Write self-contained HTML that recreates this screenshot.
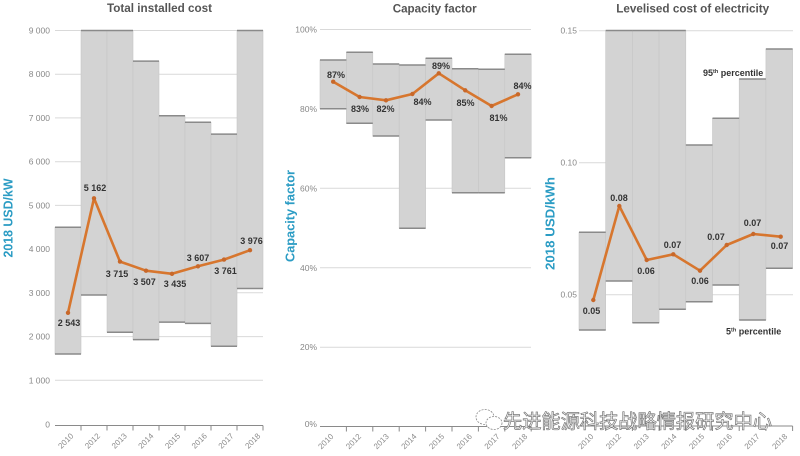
<!DOCTYPE html>
<html>
<head>
<meta charset="utf-8">
<style>
  html,body{margin:0;padding:0;background:#fff;}
  svg{display:block;}
  text{font-family:"Liberation Sans","Noto Sans CJK SC",sans-serif;}
  .title{font-size:12px;font-weight:bold;fill:#555;}
  .ytitle{font-size:13px;font-weight:bold;fill:#2b9cc4;}
  .tick{font-size:8.5px;fill:#888;}
  .xt{font-size:8px;fill:#8a8a8a;}
  .dl{font-size:9px;font-weight:bold;fill:#333;}
  .grid{stroke:#d9d9d9;stroke-width:1;}
  .box{fill:#d3d3d3;stroke:#c6c6c6;stroke-width:0.6;}
  .edge{stroke:#8a8a8a;stroke-width:1.5;}
  .axis{stroke:#8a8a8a;stroke-width:1;fill:none;}
  .ln{fill:none;stroke:#d7762e;stroke-width:2.6;stroke-linejoin:round;}
  .mk{fill:#c8682a;}
  .wm{font-family:"Liberation Sans","Noto Sans CJK SC",sans-serif;font-size:19.2px;fill:#fff;stroke:#777;stroke-width:0.7;}
</style>
</head>
<body>
<svg width="800" height="456" viewBox="0 0 800 456" xmlns="http://www.w3.org/2000/svg">
  <rect width="800" height="456" fill="#fff"/>

  <!-- ================= LEFT PANEL ================= -->
  <text class="title" x="159.5" y="12" text-anchor="middle" textLength="105" lengthAdjust="spacingAndGlyphs">Total installed cost</text>
  <text class="ytitle" transform="translate(12.5,218) rotate(-90)" text-anchor="middle" textLength="79" lengthAdjust="spacingAndGlyphs">2018 USD/kW</text>

  <g>
    <line class="grid" x1="55" y1="30.5" x2="263" y2="30.5"/>
    <line class="grid" x1="55" y1="74.2" x2="263" y2="74.2"/>
    <line class="grid" x1="55" y1="117.9" x2="263" y2="117.9"/>
    <line class="grid" x1="55" y1="161.7" x2="263" y2="161.7"/>
    <line class="grid" x1="55" y1="205.4" x2="263" y2="205.4"/>
    <line class="grid" x1="55" y1="249.1" x2="263" y2="249.1"/>
    <line class="grid" x1="55" y1="292.8" x2="263" y2="292.8"/>
    <line class="grid" x1="55" y1="336.6" x2="263" y2="336.6"/>
    <line class="grid" x1="55" y1="380.3" x2="263" y2="380.3"/>
  </g>
  <g text-anchor="end">
    <text class="tick" x="50" y="33.5">9 000</text>
    <text class="tick" x="50" y="77.2">8 000</text>
    <text class="tick" x="50" y="120.9">7 000</text>
    <text class="tick" x="50" y="164.7">6 000</text>
    <text class="tick" x="50" y="208.4">5 000</text>
    <text class="tick" x="50" y="252.1">4 000</text>
    <text class="tick" x="50" y="295.8">3 000</text>
    <text class="tick" x="50" y="339.6">2 000</text>
    <text class="tick" x="50" y="383.3">1 000</text>
    <text class="tick" x="50" y="427.5">0</text>
  </g>

  <!-- boxes -->
  <rect class="box" x="55" y="227.3" width="26" height="126.7"/>
  <rect class="box" x="81" y="30.5" width="26" height="264.5"/>
  <rect class="box" x="107" y="30.5" width="26" height="301.7"/>
  <rect class="box" x="133" y="61.1" width="26" height="278.5"/>
  <rect class="box" x="159" y="115.8" width="26" height="206.3"/>
  <rect class="box" x="185" y="122.3" width="26" height="201.1"/>
  <rect class="box" x="211" y="134.1" width="26" height="212.1"/>
  <rect class="box" x="237" y="30.5" width="26" height="258"/>
  <g class="edge">
    <line x1="55" y1="227.3" x2="81" y2="227.3"/><line x1="55" y1="354" x2="81" y2="354"/>
    <line x1="81" y1="30.5" x2="107" y2="30.5"/><line x1="81" y1="295" x2="107" y2="295"/>
    <line x1="107" y1="30.5" x2="133" y2="30.5"/><line x1="107" y1="332.2" x2="133" y2="332.2"/>
    <line x1="133" y1="61.1" x2="159" y2="61.1"/><line x1="133" y1="339.6" x2="159" y2="339.6"/>
    <line x1="159" y1="115.8" x2="185" y2="115.8"/><line x1="159" y1="322.1" x2="185" y2="322.1"/>
    <line x1="185" y1="122.3" x2="211" y2="122.3"/><line x1="185" y1="323.4" x2="211" y2="323.4"/>
    <line x1="211" y1="134.1" x2="237" y2="134.1"/><line x1="211" y1="346.2" x2="237" y2="346.2"/>
    <line x1="237" y1="30.5" x2="263" y2="30.5"/><line x1="237" y1="288.5" x2="263" y2="288.5"/>
  </g>

  <!-- axis -->
  <path class="axis" d="M55,425.5 H263 M81,425.5 V430.5 M107,425.5 V430.5 M133,425.5 V430.5 M159,425.5 V430.5 M185,425.5 V430.5 M211,425.5 V430.5 M237,425.5 V430.5 M263,425.5 V430.5"/>
  <g text-anchor="end">
    <text class="xt" transform="translate(74,436.5) rotate(-45)">2010</text>
    <text class="xt" transform="translate(100.7,436.5) rotate(-45)">2012</text>
    <text class="xt" transform="translate(127.4,436.5) rotate(-45)">2013</text>
    <text class="xt" transform="translate(154.1,436.5) rotate(-45)">2014</text>
    <text class="xt" transform="translate(180.8,436.5) rotate(-45)">2015</text>
    <text class="xt" transform="translate(207.5,436.5) rotate(-45)">2016</text>
    <text class="xt" transform="translate(234.2,436.5) rotate(-45)">2017</text>
    <text class="xt" transform="translate(260.9,436.5) rotate(-45)">2018</text>
  </g>

  <!-- line -->
  <path class="ln" d="M68,312.8 L94,198.3 L120,261.6 L146,270.7 L172,273.8 L198,266.3 L224,259.6 L250,250.2"/>
  <g class="mk">
    <circle cx="68" cy="312.8" r="2.2"/><circle cx="94" cy="198.3" r="2.2"/><circle cx="120" cy="261.6" r="2.2"/><circle cx="146" cy="270.7" r="2.2"/>
    <circle cx="172" cy="273.8" r="2.2"/><circle cx="198" cy="266.3" r="2.2"/><circle cx="224" cy="259.6" r="2.2"/><circle cx="250" cy="250.2" r="2.2"/>
  </g>
  <g text-anchor="middle">
    <text class="dl" x="69" y="326">2 543</text>
    <text class="dl" x="95" y="191">5 162</text>
    <text class="dl" x="117" y="277">3 715</text>
    <text class="dl" x="144.5" y="285">3 507</text>
    <text class="dl" x="175" y="287">3 435</text>
    <text class="dl" x="198" y="261">3 607</text>
    <text class="dl" x="225.5" y="274">3 761</text>
    <text class="dl" x="251.5" y="244">3 976</text>
  </g>

  <!-- ================= MIDDLE PANEL ================= -->
  <text class="title" x="434.7" y="12.5" text-anchor="middle" textLength="84" lengthAdjust="spacingAndGlyphs">Capacity factor</text>
  <text class="ytitle" transform="translate(294.5,216) rotate(-90)" text-anchor="middle" textLength="92" lengthAdjust="spacingAndGlyphs">Capacity factor</text>

  <g>
    <line class="grid" x1="320" y1="29.5" x2="531" y2="29.5"/>
    <line class="grid" x1="320" y1="108.8" x2="531" y2="108.8"/>
    <line class="grid" x1="320" y1="188.3" x2="531" y2="188.3"/>
    <line class="grid" x1="320" y1="267.8" x2="531" y2="267.8"/>
    <line class="grid" x1="320" y1="347.2" x2="531" y2="347.2"/>
  </g>
  <g text-anchor="end">
    <text class="tick" x="317" y="32.5">100%</text>
    <text class="tick" x="317" y="111.8">80%</text>
    <text class="tick" x="317" y="191.3">60%</text>
    <text class="tick" x="317" y="270.8">40%</text>
    <text class="tick" x="317" y="350.2">20%</text>
    <text class="tick" x="317" y="427">0%</text>
  </g>

  <rect class="box" x="320" y="60" width="26.4" height="48.7"/>
  <rect class="box" x="346.4" y="52.3" width="26.4" height="71"/>
  <rect class="box" x="372.8" y="64" width="26.4" height="72"/>
  <rect class="box" x="399.2" y="65" width="26.4" height="163.3"/>
  <rect class="box" x="425.6" y="58.3" width="26.4" height="61.7"/>
  <rect class="box" x="452" y="68.7" width="26.4" height="124"/>
  <rect class="box" x="478.4" y="69.3" width="26.4" height="123.4"/>
  <rect class="box" x="504.8" y="54.3" width="26.4" height="103.4"/>
  <g class="edge">
    <line x1="320" y1="60" x2="346.4" y2="60"/><line x1="320" y1="108.7" x2="346.4" y2="108.7"/>
    <line x1="346.4" y1="52.3" x2="372.8" y2="52.3"/><line x1="346.4" y1="123.3" x2="372.8" y2="123.3"/>
    <line x1="372.8" y1="64" x2="399.2" y2="64"/><line x1="372.8" y1="136" x2="399.2" y2="136"/>
    <line x1="399.2" y1="65" x2="425.6" y2="65"/><line x1="399.2" y1="228.3" x2="425.6" y2="228.3"/>
    <line x1="425.6" y1="58.3" x2="452" y2="58.3"/><line x1="425.6" y1="120" x2="452" y2="120"/>
    <line x1="452" y1="68.7" x2="478.4" y2="68.7"/><line x1="452" y1="192.7" x2="478.4" y2="192.7"/>
    <line x1="478.4" y1="69.3" x2="504.8" y2="69.3"/><line x1="478.4" y1="192.7" x2="504.8" y2="192.7"/>
    <line x1="504.8" y1="54.3" x2="531.2" y2="54.3"/><line x1="504.8" y1="157.7" x2="531.2" y2="157.7"/>
  </g>

  <path class="axis" d="M320,426.5 H531.2 M346.4,426.5 V431.5 M372.8,426.5 V431.5 M399.2,426.5 V431.5 M425.6,426.5 V431.5 M452,426.5 V431.5 M478.4,426.5 V431.5 M504.8,426.5 V431.5 M531.2,426.5 V431.5"/>
  <g text-anchor="end">
    <text class="xt" transform="translate(334,437) rotate(-45)">2010</text>
    <text class="xt" transform="translate(361.7,437) rotate(-45)">2012</text>
    <text class="xt" transform="translate(389.4,437) rotate(-45)">2013</text>
    <text class="xt" transform="translate(417.1,437) rotate(-45)">2014</text>
    <text class="xt" transform="translate(444.8,437) rotate(-45)">2015</text>
    <text class="xt" transform="translate(472.5,437) rotate(-45)">2016</text>
    <text class="xt" transform="translate(500.2,437) rotate(-45)">2017</text>
    <text class="xt" transform="translate(527.9,437) rotate(-45)">2018</text>
  </g>

  <path class="ln" d="M333.2,81.7 L359.6,97 L386,100.3 L412.4,94 L438.8,73.3 L465.2,90.3 L491.6,106 L518,94.3"/>
  <g class="mk">
    <circle cx="333.2" cy="81.7" r="2.2"/><circle cx="359.6" cy="97" r="2.2"/><circle cx="386" cy="100.3" r="2.2"/><circle cx="412.4" cy="94" r="2.2"/>
    <circle cx="438.8" cy="73.3" r="2.2"/><circle cx="465.2" cy="90.3" r="2.2"/><circle cx="491.6" cy="106" r="2.2"/><circle cx="518" cy="94.3" r="2.2"/>
  </g>
  <g text-anchor="middle">
    <text class="dl" x="336" y="78.2">87%</text>
    <text class="dl" x="360" y="112.2">83%</text>
    <text class="dl" x="385.5" y="112.2">82%</text>
    <text class="dl" x="422.5" y="105.2">84%</text>
    <text class="dl" x="441" y="69.2">89%</text>
    <text class="dl" x="465.5" y="106.2">85%</text>
    <text class="dl" x="498.5" y="121.2">81%</text>
    <text class="dl" x="522.5" y="89.2">84%</text>
  </g>

  <!-- ================= RIGHT PANEL ================= -->
  <text class="title" x="692.7" y="12.5" text-anchor="middle" textLength="153" lengthAdjust="spacingAndGlyphs">Levelised cost of electricity</text>
  <text class="ytitle" transform="translate(554.5,223.5) rotate(-90)" text-anchor="middle" textLength="93" lengthAdjust="spacingAndGlyphs">2018 USD/kWh</text>

  <g>
    <line class="grid" x1="579" y1="30.7" x2="793" y2="30.7"/>
    <line class="grid" x1="579" y1="162.7" x2="793" y2="162.7"/>
    <line class="grid" x1="579" y1="294.7" x2="793" y2="294.7"/>
  </g>
  <g text-anchor="end">
    <text class="tick" x="577" y="33.7">0.15</text>
    <text class="tick" x="577" y="165.7">0.10</text>
    <text class="tick" x="577" y="297.7">0.05</text>
  </g>

  <rect class="box" x="579" y="232.3" width="26.7" height="97.7"/>
  <rect class="box" x="605.7" y="30.5" width="26.7" height="250.5"/>
  <rect class="box" x="632.4" y="30.5" width="26.7" height="292.2"/>
  <rect class="box" x="659.1" y="30.5" width="26.7" height="278.8"/>
  <rect class="box" x="685.8" y="145" width="26.7" height="156.7"/>
  <rect class="box" x="712.5" y="118.3" width="26.7" height="166.7"/>
  <rect class="box" x="739.2" y="79" width="26.7" height="241"/>
  <rect class="box" x="765.9" y="49" width="26.7" height="219.3"/>
  <g class="edge">
    <line x1="579" y1="232.3" x2="605.7" y2="232.3"/><line x1="579" y1="330" x2="605.7" y2="330"/>
    <line x1="605.7" y1="30.5" x2="632.4" y2="30.5"/><line x1="605.7" y1="281" x2="632.4" y2="281"/>
    <line x1="632.4" y1="30.5" x2="659.1" y2="30.5"/><line x1="632.4" y1="322.7" x2="659.1" y2="322.7"/>
    <line x1="659.1" y1="30.5" x2="685.8" y2="30.5"/><line x1="659.1" y1="309.3" x2="685.8" y2="309.3"/>
    <line x1="685.8" y1="145" x2="712.5" y2="145"/><line x1="685.8" y1="301.7" x2="712.5" y2="301.7"/>
    <line x1="712.5" y1="118.3" x2="739.2" y2="118.3"/><line x1="712.5" y1="285" x2="739.2" y2="285"/>
    <line x1="739.2" y1="79" x2="765.9" y2="79"/><line x1="739.2" y1="320" x2="765.9" y2="320"/>
    <line x1="765.9" y1="49" x2="792.6" y2="49"/><line x1="765.9" y1="268.3" x2="792.6" y2="268.3"/>
  </g>

  <path class="axis" d="M579,426 H792.6 M605.7,426 V431 M632.4,426 V431 M659.1,426 V431 M685.8,426 V431 M712.5,426 V431 M739.2,426 V431 M765.9,426 V431 M792.6,426 V431"/>
  <g text-anchor="end">
    <text class="xt" transform="translate(594,437) rotate(-45)">2010</text>
    <text class="xt" transform="translate(621.7,437) rotate(-45)">2012</text>
    <text class="xt" transform="translate(649.4,437) rotate(-45)">2013</text>
    <text class="xt" transform="translate(677.1,437) rotate(-45)">2014</text>
    <text class="xt" transform="translate(704.8,437) rotate(-45)">2015</text>
    <text class="xt" transform="translate(732.5,437) rotate(-45)">2016</text>
    <text class="xt" transform="translate(760.2,437) rotate(-45)">2017</text>
    <text class="xt" transform="translate(787.9,437) rotate(-45)">2018</text>
  </g>

  <path class="ln" d="M593.3,300 L619.3,206 L646.7,260 L673.3,254.3 L700,270.7 L726.7,245 L753.3,234 L780.7,236.7"/>
  <g class="mk">
    <circle cx="593.3" cy="300" r="2.2"/><circle cx="619.3" cy="206" r="2.2"/><circle cx="646.7" cy="260" r="2.2"/><circle cx="673.3" cy="254.3" r="2.2"/>
    <circle cx="700" cy="270.7" r="2.2"/><circle cx="726.7" cy="245" r="2.2"/><circle cx="753.3" cy="234" r="2.2"/><circle cx="780.7" cy="236.7" r="2.2"/>
  </g>
  <g text-anchor="middle">
    <text class="dl" x="591.5" y="313.9">0.05</text>
    <text class="dl" x="619" y="201.2">0.08</text>
    <text class="dl" x="646" y="274.2">0.06</text>
    <text class="dl" x="672.5" y="248.2">0.07</text>
    <text class="dl" x="700" y="283.9">0.06</text>
    <text class="dl" x="716" y="239.9">0.07</text>
    <text class="dl" x="752.5" y="226.2">0.07</text>
    <text class="dl" x="779.5" y="249.2">0.07</text>
  </g>
  <text class="dl" x="703" y="76">95<tspan font-size="5.5" dy="-3">th</tspan><tspan dy="3"> percentile</tspan></text>
  <text class="dl" x="726" y="334.5">5<tspan font-size="5.5" dy="-3">th</tspan><tspan dy="3"> percentile</tspan></text>

  <!-- ================= WATERMARK ================= -->
  <g fill="none" stroke="#8a8a8a" stroke-width="0.8" stroke-dasharray="2,1.2">
    <ellipse cx="485" cy="417" rx="9" ry="7.5" fill="#fff"/>
    <ellipse cx="494" cy="423" rx="8" ry="6.5" fill="#fff"/>
  </g>
  <text class="wm" x="503" y="428" textLength="269" lengthAdjust="spacingAndGlyphs">先进能源科技战略情报研究中心</text>
</svg>
</body>
</html>
